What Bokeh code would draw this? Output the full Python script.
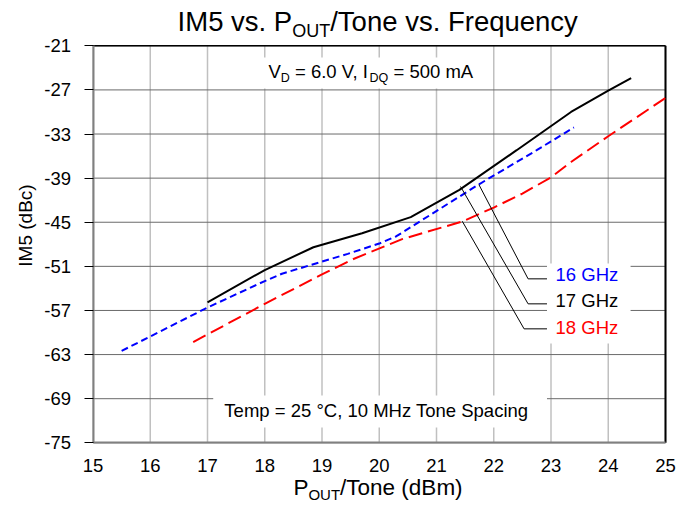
import math
from bokeh.plotting import figure
from bokeh.models import Label, FixedTicker
from bokeh.embed import file_html
from bokeh.resources import INLINE

# ---------------- data ----------------
x_ticks = [15, 16, 17, 18, 19, 20, 21, 22, 23, 24, 25]
x_tick_labels = ["15", "16", "17", "18", "19", "20", "21", "22", "23", "24", "25"]
y_ticks = [-75, -69, -63, -57, -51, -45, -39, -33, -27, -21]
y_tick_labels = ["-75", "-69", "-63", "-57", "-51", "-45", "-39", "-33", "-27", "-21"]

pout_16 = [15.5, 17.0, 18.0, 18.3, 19.45, 20.0, 20.3, 21.75, 22.75, 23.4]
im5_16 = [-62.5, -56.6, -53.0, -52.0, -49.3, -47.9, -46.9, -39.8, -35.2, -32.1]

pout_17 = [17.0, 18.0, 18.85, 19.7, 20.55, 21.4, 22.4, 23.35, 24.0, 24.4]
im5_17 = [-55.9, -51.5, -48.4, -46.5, -44.3, -40.6, -35.2, -30.0, -27.1, -25.4]

pout_18 = [16.75, 18.0, 19.0, 19.55, 20.4, 21.45, 22.0, 22.5, 23.0, 23.35, 24.0, 25.0]
im5_18 = [-61.3, -56.1, -52.1, -50.0, -47.3, -44.9, -43.0, -41.1, -38.9, -36.8, -33.3, -28.1]

series_names = ["16 GHz", "17 GHz", "18 GHz"]
series_colors = ["#0000FF", "#000000", "#FF0000"]

# callout leader lines (annotation geometry)
lead_16_x = [21.74, 22.6, 22.93]
lead_16_y = [-39.87, -52.7, -52.7]
lead_17_x = [21.42, 22.6, 22.93]
lead_17_y = [-40.14, -56.1, -56.1]
lead_18_x = [21.45, 22.53, 22.93]
lead_18_y = [-44.86, -59.5, -59.5]

FONT = "Liberation Sans"

# ---------------- layout (pixels of the page) ----------------
W, H = 694, 510
PX_L, PX_R, PX_T, PX_B = 92.5, 665.0, 45.3, 442.3
X0, X1, Y0, Y1 = x_ticks[0], x_ticks[-1], y_ticks[0], y_ticks[-1]
sx = (PX_R - PX_L) / (X1 - X0)
sy = (PX_B - PX_T) / (Y1 - Y0)
x_rng = (X0 - PX_L / sx, X1 + (W - PX_R) / sx)
y_rng = (Y0 - (H - PX_B) / sy, Y1 + PX_T / sy)
BASE_FIX = 0.37  # em, lifts the svg text onto the intended baseline

# Arial / Liberation Sans advance widths (per 1000 em)
AW = {" ": 278, "(": 333, ")": 333, ",": 278, "-": 333, ".": 278, "/": 278,
      "=": 584, "°": 400, "A": 667, "B": 667, "C": 722, "D": 722, "F": 611,
      "G": 778, "H": 722, "I": 278, "M": 833, "O": 778, "P": 667, "Q": 778,
      "S": 667, "T": 611, "U": 722, "V": 667, "a": 556, "c": 500, "d": 556,
      "e": 556, "g": 556, "i": 222, "m": 833, "n": 556, "o": 556, "p": 556,
      "q": 556, "r": 333, "s": 500, "u": 556, "v": 500, "y": 500, "z": 500}


def tw(s, fs):
    return sum(AW.get(c, 556) for c in s) * fs / 1000.0


p = figure(width=W, height=H, x_range=x_rng, y_range=y_rng,
           output_backend="svg", toolbar_location=None, title=None,
           min_border=0)
p.min_border_left = 0
p.min_border_right = 0
p.min_border_top = 0
p.min_border_bottom = 0
p.background_fill_color = "white"
p.border_fill_color = "white"
p.outline_line_color = None
p.grid.visible = False

p.xaxis.ticker = FixedTicker(ticks=x_ticks)
p.yaxis.ticker = FixedTicker(ticks=y_ticks)
p.xaxis.major_label_overrides = {t: l for t, l in zip(x_ticks, x_tick_labels)}
p.yaxis.major_label_overrides = {t: l for t, l in zip(y_ticks, y_tick_labels)}
p.xaxis.fixed_location = Y0
p.yaxis.fixed_location = X0
p.xaxis.bounds = (X0, X1)
p.yaxis.bounds = (Y0, Y1)

for ax in (p.xaxis, p.yaxis):
    ax.axis_line_color = "#808080"
    ax.axis_line_width = 2
    ax.minor_tick_line_color = None
    ax.major_label_text_font = FONT
    ax.major_label_text_font_size = "18.5px"
    ax.major_label_text_color = "black"

p.xaxis.major_tick_line_color = None
p.xaxis.major_label_standoff = 10
p.yaxis.major_tick_in = 0
p.yaxis.major_tick_out = 9
p.yaxis.major_tick_line_color = "black"
p.yaxis.major_label_standoff = 13

# grid lines at the tick positions
p.segment(x0=x_ticks, y0=[Y0] * len(x_ticks), x1=x_ticks, y1=[Y1] * len(x_ticks),
          line_color="#c0c0c0", line_width=1.5)
p.segment(x0=[X0] * len(y_ticks), y0=y_ticks, x1=[X1] * len(y_ticks), y1=y_ticks,
          line_color="#6a6a6a", line_width=1)

# white boxes behind the annotation texts
p.quad(left=[17.89, 17.10, 22.93], right=[21.82, 22.93, 24.39],
       top=[-22.59, -68.57, -50.61], bottom=[-26.81, -72.92, -61.49],
       fill_color="white", line_color=None)

# top / right frame lines
p.line([X0, X1], [Y1, Y1], line_color="black", line_width=1.5)
p.line([X1, X1], [Y0, Y1], line_color="black", line_width=2)

# curves
p.line(pout_18, im5_18, line_color=series_colors[2], line_width=2, line_dash="14 6")
p.line(pout_16, im5_16, line_color=series_colors[0], line_width=2, line_dash="7 4")
p.line(pout_17, im5_17, line_color=series_colors[1], line_width=2)

# leader lines
for lx, ly in ((lead_16_x, lead_16_y), (lead_17_x, lead_17_y), (lead_18_x, lead_18_y)):
    p.line(lx, ly, line_color="black", line_width=1)


def lab(x, y, text, fs, color="black", align="left", xo=0.0, yo=0.0,
        baseline="alphabetic", angle=0.0):
    p.add_layout(Label(x=x, y=y, x_offset=xo, y_offset=yo + BASE_FIX * fs,
                       text=text, text_font=FONT, text_font_size=f"{fs}px",
                       text_color=color, text_align=align,
                       text_baseline=baseline, angle=angle))


def rich(segments, x, y, x0, y0, center=False):
    """segments: (text, font_size, dy); consecutive Labels along a baseline."""
    total = sum(tw(s, fs) for s, fs, dy in segments)
    off = x0 - (total / 2.0 if center else 0.0)
    for s, fs, dy in segments:
        lead = len(s) - len(s.lstrip(" "))
        core = s.strip(" ")
        trail = len(s) - len(s.rstrip(" "))
        off += tw(" " * lead, fs)
        lab(x, y, core, fs, xo=off, yo=y0 + dy)
        off += tw(core, fs) + tw(" " * trail, fs)


# callout labels
for name, col, yb in zip(series_names, series_colors, [-53.02, -56.56, -60.27]):
    lab(23.08, yb, name, 18.5, color=col)

# condition text (top)
rich([("V", 18.5, 0), ("D", 12.5, -4.5), (" = 6.0 V, I", 18.5, 0),
      ("DQ", 12.5, -4.5), (" = 500 mA", 18.5, 0)], 18.065, -25.45, 0, 0)

# temperature text (bottom)
lab(19.95, -71.6, "Temp = 25 °C, 10 MHz Tone Spacing", 18.5, align="center")

# title
rich([("IM5 vs. P", 27.5, 0), ("OUT", 18, -6), ("/Tone vs. Frequency", 27.5, 0)],
     20.0, Y1, 0, PX_T - 31.5, center=True)

# x-axis label
rich([("P", 22.5, 0), ("OUT", 15, -5), ("/Tone (dBm)", 22.5, 0)],
     20.0, Y0, 0, PX_B - 495.0, center=True)

# y-axis label
lab(X0, -46.4, "IM5 (dBc)", 19, align="center", xo=25 - PX_L,
    baseline="middle", angle=math.pi / 2)

open("out.html", "w").write(file_html(p, INLINE))
